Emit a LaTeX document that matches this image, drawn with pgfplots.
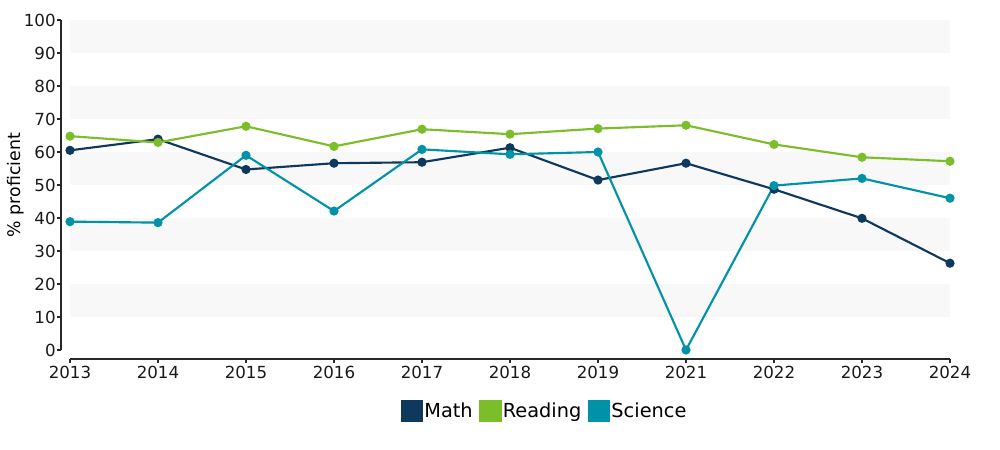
\documentclass[border=0pt]{standalone}
\usepackage{pgfplots}
\pgfplotsset{compat=1.18}
\usetikzlibrary{calc}
\usepackage{fontspec}
\setmainfont{DejaVu Sans}
\definecolor{mathc}{RGB}{15,56,94}
\definecolor{readc}{RGB}{124,189,42}
\definecolor{scic}{RGB}{0,147,167}
\definecolor{bandc}{RGB}{248,248,248}
\definecolor{axc}{RGB}{40,40,40}

\begin{document}
\begin{tikzpicture}[x=1pt,y=1pt]
\begin{axis}[
  scale only axis, width=660pt, height=247.5pt,
  xmin=0, xmax=10, ymin=0, ymax=100,
  axis lines*=left,
  axis x line shift=6.75pt, axis y line shift=6.75pt,
  axis line style={axc, line width=0.9pt},
  tick align=outside, major tick length=3pt,
  tick style={axc, line width=0.9pt},
  xtick={0,...,10},
  xticklabels={2013,2014,2015,2016,2017,2018,2019,2021,2022,2023,2024},
  ytick={0,10,...,100},
  /pgf/number format/assume math mode=true,
  tick label style={font=\fontsize{12.5}{14}\selectfont, text=black!90},
  yticklabel style={xshift=2.5pt},
  xticklabel style={yshift=1pt},
  ylabel={\% proficient},
  ylabel style={font=\fontsize{13}{15}\selectfont, at={(rel axis cs:0,0.5)}, anchor=center, yshift=41pt},
  clip=false,
  legend columns=3,
  legend style={at={(0.539,-0.185)}, anchor=center, draw=none, fill=none,
    font=\fontsize{14.5}{16}\selectfont,
    /tikz/every even column/.append style={column sep=4pt},
    nodes={inner sep=1pt}},
  legend image code/.code={\fill[#1] (0pt,-7.5pt) rectangle (15pt,7.5pt);},
]
\fill[bandc] (axis cs:0,10) rectangle (axis cs:10,20);
\fill[bandc] (axis cs:0,30) rectangle (axis cs:10,40);
\fill[bandc] (axis cs:0,50) rectangle (axis cs:10,60);
\fill[bandc] (axis cs:0,70) rectangle (axis cs:10,80);
\fill[bandc] (axis cs:0,90) rectangle (axis cs:10,100);
\coordinate (bl) at (rel axis cs:0,0);
\coordinate (tr) at (rel axis cs:1,1);

\addplot[color=mathc, line width=1.6pt, mark=*, mark size=2.6pt]
  coordinates {(0,60.5) (1,63.9) (2,54.7) (3,56.6) (4,56.9) (5,61.3) (6,51.5) (7,56.6) (8,48.7) (9,39.9) (10,26.3)};
\addlegendentry{Math}
\addplot[color=readc, line width=1.6pt, mark=*, mark size=2.6pt]
  coordinates {(0,64.8) (1,62.9) (2,67.8) (3,61.7) (4,66.9) (5,65.4) (6,67.1) (7,68.1) (8,62.3) (9,58.4) (10,57.2)};
\addlegendentry{Reading}
\addplot[color=scic, line width=1.6pt, mark=*, mark size=2.6pt]
  coordinates {(0,38.9) (1,38.6) (2,59.0) (3,42.1) (4,60.8) (5,59.3) (6,60.0) (7,0.0) (8,49.8) (9,52.0) (10,46.0)};
\addlegendentry{Science}
\end{axis}
\pgfresetboundingbox
\path[use as bounding box] ($(bl)+(-52.5pt,-75pt)$) rectangle ($(tr)+(37.5pt,15pt)$);
\end{tikzpicture}
\end{document}
